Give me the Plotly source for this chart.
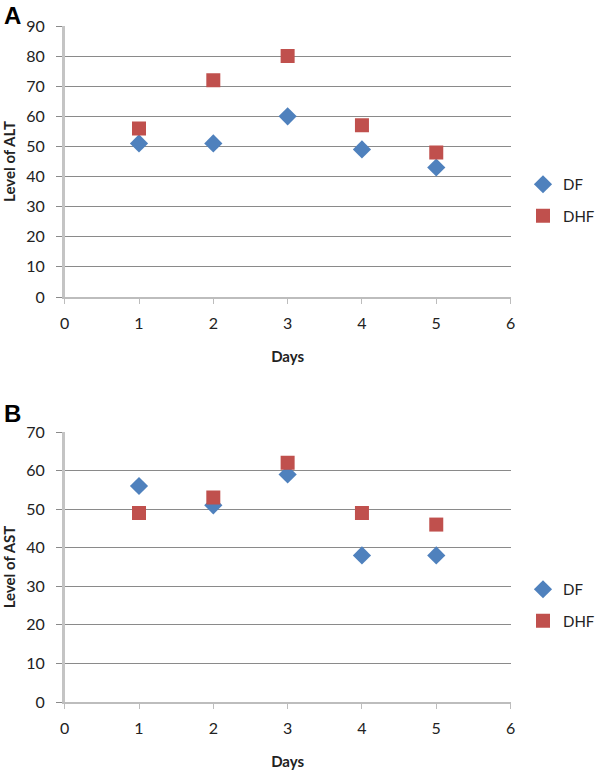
import plotly.graph_objects as go

days = [1, 2, 3, 4, 5]
alt_df = [51, 51, 60, 49, 43]
alt_dhf = [56, 72, 80, 57, 48]
ast_df = [56, 51, 59, 38, 38]
ast_dhf = [49, 53, 62, 49, 46]
x_ticks = [0, 1, 2, 3, 4, 5, 6]
alt_ticks = [0, 10, 20, 30, 40, 50, 60, 70, 80, 90]
ast_ticks = [0, 10, 20, 30, 40, 50, 60, 70]

BLUE = "#4f81bd"
RED = "#c0504d"
FONT = "Lato, Open Sans, sans-serif"

fig = go.Figure()

def add(x, y, name, sym, color, size, xa, ya, leg):
    fig.add_trace(go.Scatter(
        x=x, y=y, name=name, mode="markers",
        marker=dict(symbol=sym, color=color, size=size, line=dict(width=0)),
        xaxis=xa, yaxis=ya, legend=leg, legendgroup=name + leg,
    ))

add(days, alt_df, "DF", "diamond", BLUE, 14, "x", "y", "legend")
add(days, alt_dhf, "DHF", "square", RED, 14, "x", "y", "legend")
add(days, ast_df, "DF", "diamond", BLUE, 14, "x2", "y2", "legend2")
add(days, ast_dhf, "DHF", "square", RED, 14, "x2", "y2", "legend2")

xd = [66 / 600, 521 / 600]

def xaxis(anchor):
    return dict(
        domain=xd, range=[0, 6], tickvals=x_ticks, showgrid=False, zeroline=False,
        showline=True, linecolor="#bdbdbd", linewidth=1.5,
        ticks="outside", ticklen=5, tickcolor="#bdbdbd", ticklabelstandoff=6,
        tickfont=dict(size=16, color="#222", family=FONT),
        title=dict(text="<b>Days</b>", font=dict(size=15, color="#222", family=FONT), standoff=21),
        anchor=anchor, fixedrange=True, automargin=False,
    )

def yaxis(dom, rng, ticks, title, anchor):
    return dict(
        domain=dom, range=rng, tickvals=ticks, showgrid=True, gridcolor="#8a8a8a", gridwidth=1,
        zeroline=False, showline=True, linecolor="#c4c4c4", linewidth=2.5,
        ticks="outside", ticklen=6, tickcolor="#8a8a8a", ticklabelstandoff=8,
        tickfont=dict(size=16, color="#222", family=FONT),
        title=dict(text="<b>" + title + "</b>", font=dict(size=15, color="#222", family=FONT), standoff=8),
        anchor=anchor, fixedrange=True, automargin=False,
    )

leg_common = dict(xanchor="left", yanchor="top",
                  font=dict(size=15, color="#222", family=FONT), tracegroupgap=9,
                  traceorder="grouped", bgcolor="rgba(0,0,0,0)", borderwidth=0)

fig.update_layout(
    width=600, height=776,
    margin=dict(l=0, r=0, t=0, b=0),
    paper_bgcolor="white", plot_bgcolor="white",
    showlegend=True,
    xaxis=xaxis("y"),
    yaxis=yaxis([1 - 297 / 776, 1 - 26 / 776], [0, 90], alt_ticks, "Level of ALT", "x"),
    xaxis2=xaxis("y2"),
    yaxis2=yaxis([1 - 702 / 776, 1 - 432 / 776], [0, 70], ast_ticks, "Level of AST", "x2"),
    legend=dict(x=534 / 600, y=1 - 168 / 776, **leg_common),
    legend2=dict(x=534 / 600, y=1 - 573 / 776, **leg_common),
    annotations=[
        dict(text="<b>A</b>", x=2 / 600, y=1 - 0 / 776, xref="paper", yref="paper",
             xanchor="left", yanchor="top", showarrow=False,
             font=dict(size=24, color="black", family="Liberation Sans, Arial")),
        dict(text="<b>B</b>", x=2 / 600, y=1 - 398 / 776, xref="paper", yref="paper",
             xanchor="left", yanchor="top", showarrow=False,
             font=dict(size=24, color="black", family="Liberation Sans, Arial")),
    ],
)

fig.write_html(
    "out.html", config={"displayModeBar": False},
    post_script=(
        "document.body.style.margin='0px';"
        "document.body.style.overflow='hidden';"
        "document.documentElement.style.overflow='hidden';"
    ),
)
